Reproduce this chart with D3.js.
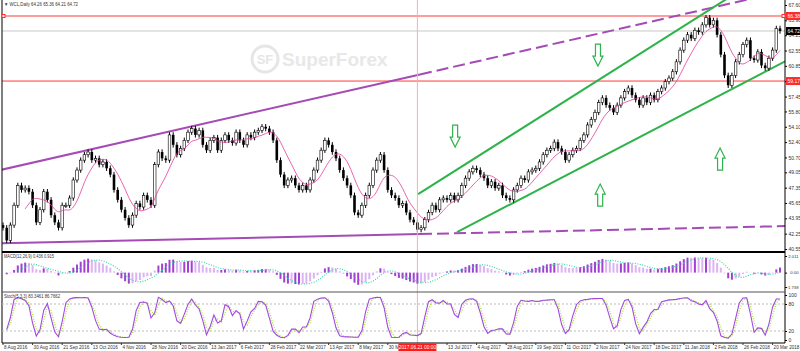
<!DOCTYPE html>
<html>
<head>
<meta charset="utf-8">
<script src="https://cdn.jsdelivr.net/npm/d3@7"></script>
<style>
  body { margin: 0; background: #fff; }
  svg { display: block; font-family: "Liberation Sans", Arial, sans-serif; }
  .lbl { font-size: 5px; fill: #333; }
  .axis text { font-size: 5px; fill: #333; }
  .dates text { font-size: 4.6px; fill: #333; }
</style>
</head>
<body>
<div id="graphic"></div>
<script>
// Closes, one value per two trading days
var closes = [
  42.9, 41.5, 43.2, 45.4, 47.6, 47.1, 47.3, 46.9, 45.4, 43.5, 44.9,
  46.9, 46.0, 44.3, 43.5, 42.9, 45.4, 45.4, 46.2, 48.2, 49.3,
  50.4, 51.0, 51.3, 50.4, 50.6, 49.9, 50.2, 49.5, 48.8, 47.1,
  46.0, 44.9, 44.0, 43.2, 44.3, 45.6, 45.2, 46.5, 46.0, 45.4,
  49.9, 51.3, 50.6, 50.4, 53.2, 52.1, 51.0, 51.7, 52.6, 53.5,
  53.9, 53.2, 53.7, 52.1, 51.5, 52.6, 52.9, 51.5, 52.6, 53.2,
  52.6, 52.3, 53.5, 52.6, 52.1, 53.2, 52.9, 53.5, 53.7, 54.1,
  53.9, 53.5, 52.6, 50.4, 48.8, 47.6, 48.2, 48.4, 47.6, 47.1,
  47.6, 47.1, 48.2, 49.3, 50.4, 51.5, 52.6, 52.1, 51.3, 50.6,
  49.3, 48.4, 47.6, 46.5, 44.6, 44.3, 45.4, 46.5, 47.6, 49.3,
  50.4, 51.0, 49.3, 47.1, 46.5, 46.2, 45.4, 45.6, 44.6, 43.8,
  43.5, 42.7, 42.9, 43.8, 44.6, 45.4, 44.9, 46.0, 46.2, 46.0,
  46.5, 46.0, 46.5, 47.6, 48.4, 49.1, 49.5, 49.3, 48.8, 48.4,
  47.6, 48.0, 47.3, 47.6, 46.5, 46.2, 46.0, 47.1, 47.6, 48.4,
  48.2, 49.1, 49.3, 49.5, 50.2, 51.0, 51.5, 51.7, 52.4, 51.7,
  51.3, 50.4, 51.0, 51.5, 51.7, 52.6, 53.2, 54.3, 54.9, 55.7,
  56.8, 57.3, 56.5, 56.2, 55.7, 56.5, 57.3, 58.0, 58.4, 57.6,
  57.1, 56.5, 57.3, 56.8, 57.6, 57.1, 58.0, 58.4, 59.1, 59.5,
  60.2, 61.3, 62.6, 63.7, 64.3, 63.9, 64.8, 64.6, 65.4, 66.2,
  65.4, 65.9, 64.3, 62.1, 59.8, 58.7, 59.8, 61.3, 62.1, 63.2,
  63.7, 61.7, 61.5, 62.4, 60.9, 60.6, 61.7, 62.6, 65.0, 64.72
];
var firstOpen = 43.2;

// one date label every 8 bars (21 Jun 2017 sits under the red cursor label)
var dateLabels = [
  "8 Aug 2016", "30 Aug 2016", "21 Sep 2016", "13 Oct 2016", "4 Nov 2016",
  "28 Nov 2016", "20 Dec 2016", "13 Jan 2017", "6 Feb 2017", "28 Feb 2017",
  "22 Mar 2017", "13 Apr 2017", "8 May 2017", "30 May 2017", "21 Jun 2017",
  "13 Jul 2017", "4 Aug 2017", "28 Aug 2017", "19 Sep 2017", "11 Oct 2017",
  "2 Nov 2017", "24 Nov 2017", "18 Dec 2017", "11 Jan 2018", "2 Feb 2018",
  "26 Feb 2018", "20 Mar 2018"
];
var priceTicks = [67.60, 65.90, 64.25, 62.55, 60.85, 59.15, 57.45, 55.80, 54.10,
  52.40, 50.70, 49.05, 47.35, 45.65, 43.95, 42.25, 40.55];
var macdTicks = [2.011, 0, -1.738];
var stochTicks = [100, 80, 20, 0];
var redLevels = [66.38, 59.17];

// trend lines as [bar index, price] pairs
var wedgeTopSolid = [[-0.8, 49.30], [112.7, 59.90]];
var wedgeTopDash = [[112.7, 59.90], [215.4, 69.53]];
var wedgeLowSolid = [[-0.8, 41.17], [112.7, 42.20]];
var wedgeLowDash = [[112.7, 42.20], [211.4, 43.09]];
var channelTop = [[112.2, 46.64], [199.2, 69.21]];
var channelLow = [[122.7, 42.43], [211.4, 61.35]];
var arrows = [
  { i: 122.2, p: 53.07, dir: "down" },
  { i: 160.8, p: 62.05, dir: "down" },
  { i: 161.4, p: 46.53, dir: "up" },
  { i: 193.8, p: 50.52, dir: "up" }
];
var markerBar = 112;
var markerLabel = "2017.06.21 00:00";

var width = 800, height = 351;
var plotR = 785;
var wickPad = 0.3;

var svg = d3.select("#graphic").append("svg")
  .attr("width", width).attr("height", height);

// Scales
var x = d3.scaleLinear().domain([0, 210]).range([3, 780]);
var y = d3.scaleLinear().domain([40.55, 67.60]).range([249, 5]);
var yMacd = d3.scaleLinear().domain([-1.738, 2.011]).range([287, 256]);
var yStoch = d3.scaleLinear().domain([0, 100]).range([340, 295]);

// Build bars
var bars = closes.map(function (c, i) {
  var o = i ? closes[i - 1] : firstOpen;
  return { i: i, o: o, c: c, h: Math.max(o, c) + wickPad, l: Math.min(o, c) - wickPad };
});

function sma(arr, n) {
  return arr.map(function (_, i) {
    if (i < n - 1) return null;
    return d3.mean(arr.slice(i - n + 1, i + 1));
  });
}
function ema(arr, n) {
  var k = 2 / (n + 1), out = [], prev = arr[0];
  arr.forEach(function (v) { prev = v * k + prev * (1 - k); out.push(prev); });
  return out;
}

var ma = sma(closes, 7);
var e1 = ema(closes, 6), e2 = ema(closes, 13);
var macd = closes.map(function (_, i) { return e1[i] - e2[i]; });
var signal = sma(macd, 5);
var rawK = bars.map(function (b, i) {
  var win = bars.slice(Math.max(0, i - 3), i + 1);
  var hh = d3.max(win, function (d) { return d.h; });
  var ll = d3.min(win, function (d) { return d.l; });
  return (b.c - ll) / (hh - ll) * 100;
});
var stochK = sma(rawK, 2);
var stochD = sma(stochK, 2);

// Clip for main window
svg.append("clipPath").attr("id", "mainClip")
  .append("rect").attr("x", 2).attr("y", 0).attr("width", plotR - 2).attr("height", 251);

// Watermark
var wm = svg.append("g");
wm.append("circle").attr("cx", 265).attr("cy", 59).attr("r", 13)
  .attr("fill", "none").attr("stroke", "#e6e6e6").attr("stroke-width", 3);
wm.append("text").attr("x", 265).attr("y", 64).attr("text-anchor", "middle")
  .attr("font-size", 13).attr("font-weight", "bold").attr("fill", "#e6e6e6").text("SF");
wm.append("text").attr("x", 282).attr("y", 66)
  .attr("font-size", 19).attr("font-weight", "bold").attr("fill", "#e8e8e8").text("SuperForex");

var main = svg.append("g").attr("clip-path", "url(#mainClip)");

// Horizontal levels
main.selectAll(".lvl").data(redLevels).enter().append("line")
  .attr("x1", 2).attr("x2", plotR)
  .attr("y1", function (d) { return y(d); }).attr("y2", function (d) { return y(d); })
  .attr("stroke", "#ff3b3b").attr("stroke-width", 1);
main.append("line").attr("x1", 2).attr("x2", plotR)
  .attr("y1", y(closes[closes.length - 1])).attr("y2", y(closes[closes.length - 1]))
  .attr("stroke", "#c8c8c8").attr("stroke-width", 1);

// Crosshair vertical
svg.append("line").attr("x1", x(markerBar)).attr("x2", x(markerBar))
  .attr("y1", 0).attr("y2", 343).attr("stroke", "#ffaaaa").attr("stroke-width", 1);

// Trend lines
var tl = d3.line().x(function (d) { return x(d[0]); }).y(function (d) { return y(d[1]); });
var purple = "#a54bb5", green = "#2db34a";
main.append("path").attr("d", tl(wedgeTopSolid)).attr("stroke", purple).attr("stroke-width", 2).attr("fill", "none");
main.append("path").attr("d", tl(wedgeTopDash)).attr("stroke", purple).attr("stroke-width", 2)
  .attr("stroke-dasharray", "12,5").attr("fill", "none");
main.append("path").attr("d", tl(wedgeLowSolid)).attr("stroke", purple).attr("stroke-width", 2).attr("fill", "none");
main.append("path").attr("d", tl(wedgeLowDash)).attr("stroke", purple).attr("stroke-width", 2)
  .attr("stroke-dasharray", "12,5").attr("fill", "none");
main.append("path").attr("d", tl(channelTop)).attr("stroke", green).attr("stroke-width", 2).attr("fill", "none");
main.append("path").attr("d", tl(channelLow)).attr("stroke", green).attr("stroke-width", 2).attr("fill", "none");

// Candles
main.selectAll(".wick").data(bars).enter().append("line")
  .attr("x1", function (d) { return x(d.i); }).attr("x2", function (d) { return x(d.i); })
  .attr("y1", function (d) { return y(d.h); }).attr("y2", function (d) { return y(d.l); })
  .attr("stroke", "#000").attr("stroke-width", 1);
main.selectAll(".body").data(bars).enter().append("rect")
  .attr("x", function (d) { return x(d.i) - 1.3; })
  .attr("width", 2.6)
  .attr("y", function (d) { return y(Math.max(d.o, d.c)); })
  .attr("height", function (d) { return Math.max(1, Math.abs(y(d.o) - y(d.c))); })
  .attr("fill", function (d) { return d.c >= d.o ? "#fff" : "#000"; })
  .attr("stroke", "#000").attr("stroke-width", function (d) { return d.c >= d.o ? 0.6 : 0; });

// Moving average
main.append("path")
  .datum(ma.map(function (v, i) { return [i, v]; }).filter(function (d) { return d[1] !== null; }))
  .attr("d", d3.line().x(function (d) { return x(d[0]); }).y(function (d) { return y(d[1]); }).curve(d3.curveBasis))
  .attr("fill", "none").attr("stroke", "#e23c9e").attr("stroke-width", 0.8);

// Arrows
main.selectAll(".arrow").data(arrows).enter().append("path")
  .attr("d", function (d) {
    var cx = x(d.i), cy = y(d.p), s = d.dir === "up" ? 1 : -1;
    var pts = [[0, -11], [5, -1], [2.5, -1], [2.5, 11], [-2.5, 11], [-2.5, -1], [-5, -1]];
    return "M" + pts.map(function (p) { return [cx + p[0], cy + p[1] * s].join(","); }).join("L") + "Z";
  })
  .attr("fill", "#fff").attr("stroke", green).attr("stroke-width", 1.2);

// Header
svg.append("text").attr("class", "lbl").attr("x", 4).attr("y", 6)
  .attr("textLength", 74).attr("lengthAdjust", "spacingAndGlyphs")
  .text("\u25BC WCL,Daily 64.26 65.36 64.21 64.72");

// Panel frames
svg.append("line").attr("x1", 2).attr("x2", 2).attr("y1", 0).attr("y2", 343).attr("stroke", "#000");
svg.append("line").attr("x1", plotR).attr("x2", plotR).attr("y1", 0).attr("y2", 343).attr("stroke", "#000");
svg.append("rect").attr("x", 2).attr("y", 251).attr("width", plotR - 2).attr("height", 2).attr("fill", "#000");
svg.append("line").attr("x1", 2).attr("x2", plotR).attr("y1", 292).attr("y2", 292).attr("stroke", "#555");
svg.append("line").attr("x1", 2).attr("x2", plotR).attr("y1", 343).attr("y2", 343).attr("stroke", "#000");

// MACD
var macdG = svg.append("g");
macdG.selectAll("rect").data(macd).enter().append("rect")
  .attr("x", function (d, i) { return x(i) - 1; })
  .attr("width", 2)
  .attr("y", function (d) { return Math.min(yMacd(d), yMacd(0)); })
  .attr("height", function (d) { return Math.abs(yMacd(d) - yMacd(0)); })
  .attr("fill", function (d, i) {
    var prev = i ? macd[i - 1] : d;
    return Math.abs(d) >= Math.abs(prev) ? "#a43fd6" : "#dcb4f2";
  });
macdG.append("path")
  .datum(signal.map(function (v, i) { return [i, v]; }).filter(function (d) { return d[1] !== null; }))
  .attr("d", d3.line().x(function (d) { return x(d[0]); }).y(function (d) { return yMacd(d[1]); }))
  .attr("fill", "none").attr("stroke", "#3ad8a6").attr("stroke-width", 1.2).attr("stroke-dasharray", "1,1.5");
svg.append("text").attr("class", "lbl").attr("x", 4).attr("y", 258)
  .attr("textLength", 50).attr("lengthAdjust", "spacingAndGlyphs")
  .text("MACD(12,26,9) 0.436 0.915");

// Stochastic
var stG = svg.append("g");
stG.selectAll(".lev").data([80, 20]).enter().append("line")
  .attr("x1", 2).attr("x2", plotR)
  .attr("y1", function (d) { return yStoch(d); }).attr("y2", function (d) { return yStoch(d); })
  .attr("stroke", "#bbb").attr("stroke-dasharray", "2,2");
stG.append("path")
  .datum(stochD.map(function (v, i) { return [i, v]; }).filter(function (d) { return d[1] !== null; }))
  .attr("d", d3.line().x(function (d) { return x(d[0]); }).y(function (d) { return yStoch(d[1]); }))
  .attr("fill", "none").attr("stroke", "#a6e03c").attr("stroke-width", 1.3).attr("stroke-dasharray", "1,1.5");
stG.append("path")
  .datum(stochK.map(function (v, i) { return [i, v]; }).filter(function (d) { return d[1] !== null; }))
  .attr("d", d3.line().x(function (d) { return x(d[0]); }).y(function (d) { return yStoch(d[1]); }))
  .attr("fill", "none").attr("stroke", "#a348e0").attr("stroke-width", 1.1);
svg.append("text").attr("class", "lbl").attr("x", 4).attr("y", 298)
  .attr("textLength", 56).attr("lengthAdjust", "spacingAndGlyphs")
  .text("Stoch(5,3,3) 83.3461 86.7662");

// Right axes
function rightAxis(scale, ticks, fmt) {
  return svg.append("g").attr("class", "axis").attr("transform", "translate(" + plotR + ",0)")
    .call(d3.axisRight(scale).tickValues(ticks).tickSize(2).tickPadding(1.5).tickFormat(fmt))
    .call(function (g) { g.select(".domain").remove(); });
}
rightAxis(y, priceTicks, d3.format(".2f"));
rightAxis(yMacd, macdTicks, function (d) { return d === 0 ? "0.00" : d3.format(".3f")(d); })
  .selectAll("text").style("font-size", "4.2px")
  .attr("text-anchor", "end").attr("x", 13.5);
rightAxis(yStoch, stochTicks, d3.format("d"));

// Price boxes on the axis
function priceBox(p, fill) {
  svg.append("rect").attr("x", plotR + 1).attr("y", y(p) - 4).attr("width", 15).attr("height", 8).attr("fill", fill);
  svg.append("text").attr("x", plotR + 2.5).attr("y", y(p) + 1.8).attr("font-size", 5)
    .attr("fill", "#fff").text(p.toFixed(2));
}
redLevels.forEach(function (p) { priceBox(p, "#ff2a2a"); });
priceBox(closes[closes.length - 1], "#000");
svg.append("rect").attr("x", 2).attr("y", y(redLevels[0]) - 1.5).attr("width", 3).attr("height", 3)
  .attr("fill", "#fff").attr("stroke", "#ff2a2a");
svg.append("rect").attr("x", plotR - 3).attr("y", y(redLevels[0]) - 1.5).attr("width", 3).attr("height", 3)
  .attr("fill", "#fff").attr("stroke", "#ff2a2a");

// Date axis, clipped so nothing runs under the cursor label
var boxL = x(markerBar) - 19;
svg.append("clipPath").attr("id", "dateClip").selectAll("rect")
  .data([[0, boxL], [boxL + 38, width]]).enter().append("rect")
  .attr("x", function (d) { return d[0]; }).attr("width", function (d) { return d[1] - d[0]; })
  .attr("y", 343).attr("height", 8);
var dateData = dateLabels.map(function (d, k) { return { t: d, i: k * 8 }; })
  .filter(function (d) { return d.i !== markerBar; });
var dateG = svg.append("g").attr("class", "dates").attr("clip-path", "url(#dateClip)");
dateG.selectAll("text").data(dateData).enter().append("text")
  .attr("x", function (d) { return x(d.i) + 1; })
  .attr("y", 349)
  .text(function (d) { return d.t; });
dateG.selectAll("line").data(dateData).enter().append("line")
  .attr("x1", function (d) { return x(d.i); }).attr("x2", function (d) { return x(d.i); })
  .attr("y1", 343).attr("y2", 345).attr("stroke", "#333");
svg.append("rect").attr("x", boxL).attr("y", 343.5).attr("width", 38).attr("height", 7.5).attr("fill", "#ff1a1a");
svg.append("text").attr("x", x(markerBar)).attr("y", 349).attr("text-anchor", "middle")
  .attr("font-size", 4.8).attr("fill", "#fff").text(markerLabel);
</script>
</body>
</html>
